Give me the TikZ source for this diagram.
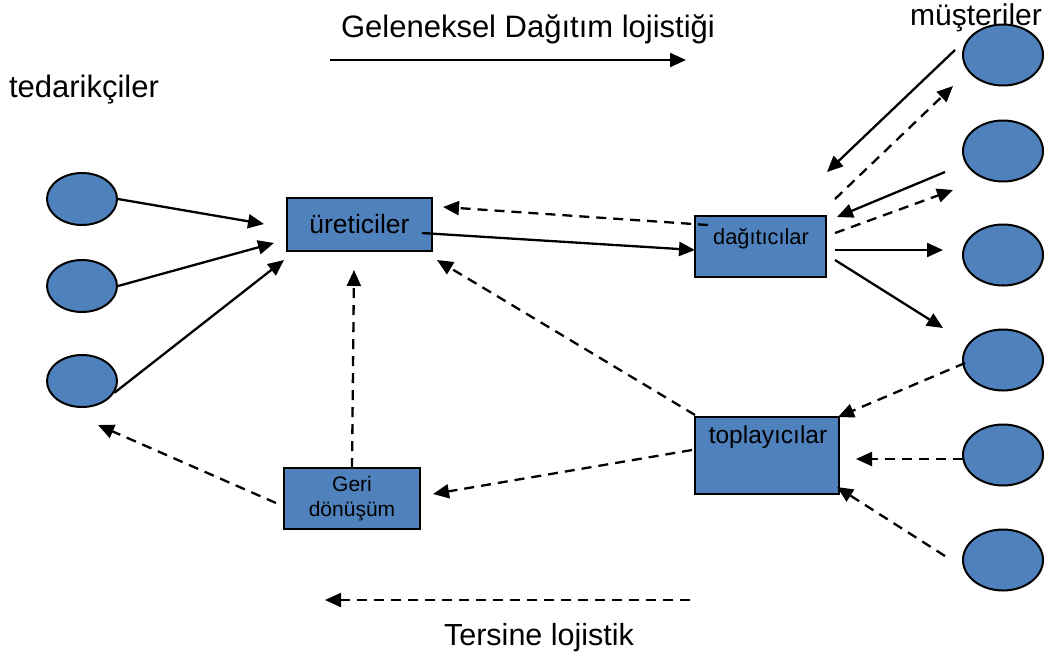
\documentclass[tikz,border=0pt]{standalone}
\usepackage{fontspec}
\setmainfont{Liberation Sans}
\usetikzlibrary{shapes.geometric,arrows.meta}
\definecolor{boxblue}{HTML}{4F81BD}
\tikzset{
  party/.style={ellipse,draw=black,line width=2pt,fill=boxblue,minimum width=80pt,minimum height=61pt,inner sep=0pt},
  leftparty/.style={party,minimum width=70pt,minimum height=52pt},
  actor/.style={rectangle,draw=black,line width=2pt,fill=boxblue,inner sep=0pt},
  flow/.style={line width=2.3pt,-{Triangle[length=16pt,width=14pt]}},
  backflow/.style={flow,dash pattern=on 10pt off 7pt},
  caption/.style={inner sep=0pt,anchor=base},
}
\newcommand{\fs}[1]{\fontsize{#1}{#1}\selectfont}
\begin{document}
\begin{tikzpicture}[x=1pt,y=-1pt]
\useasboundingbox (0,0) rectangle (1059,657);

% headings
\node[caption,font=\fs{31}] (fwdtitle) at (528,37) {Geleneksel Dağıtım lojistiği};
\node[caption,font=\fs{31}] (suptitle) at (84,97) {tedarikçiler};
\node[caption,font=\fs{30}] (custitle) at (976,25) {müşteriler};
\node[caption,font=\fs{30.5}] (revtitle) at (539,645) {Tersine lojistik};

% suppliers
\node[leftparty] (s1) at (82,199) {};
\node[leftparty] (s2) at (82,286) {};
\node[leftparty] (s3) at (82,381) {};

% customers
\node[party] (c1) at (1003,55) {};
\node[party] (c2) at (1003,151) {};
\node[party] (c3) at (1003,255) {};
\node[party] (c4) at (1003,360) {};
\node[party] (c5) at (1003,455) {};
\node[party] (c6) at (1003,560) {};

% actors
\node[actor,minimum width=145pt,minimum height=53pt,font=\fs{26.5}] (prod) at (359.5,224.5) {üreticiler};
\node[actor,minimum width=131pt,minimum height=61pt] (dist) at (760.5,246.5) {};
\node[inner sep=0pt,font=\fs{21.8}] (distlbl) at (761,239) {dağıtıcılar};
\node[actor,minimum width=144pt,minimum height=77pt] (coll) at (767,455.5) {};
\node[inner sep=0pt,font=\fs{24.5}] (colllbl) at (768,437) {toplayıcılar};
\node[actor,minimum width=136pt,minimum height=61pt,font=\fs{21},align=center] (recy) at (352,498.5) {Geri\\[4pt]dönüşüm};

% free connector ends
\coordinate (fwdA) at (330,60);
\coordinate (fwdB) at (686,60);
\coordinate (revA) at (690,600);
\coordinate (revB) at (325,600);
\coordinate (s1t) at (264,224);
\coordinate (s2t) at (274,243);
\coordinate (s3t) at (284,260);
\coordinate (prodOut) at (422,233);
\coordinate (prodIn1) at (443,207);
\coordinate (prodIn2) at (437,260);
\coordinate (prodIn3) at (354,270);
\coordinate (distOut1) at (708,225);
\coordinate (distIn) at (695,250);
\coordinate (c1o) at (955,50);
\coordinate (c1i) at (953,86);
\coordinate (d1i) at (827,172);
\coordinate (d1o) at (835,199);
\coordinate (c2o) at (945,172);
\coordinate (c2i) at (953,190);
\coordinate (d2i) at (837,217);
\coordinate (d2o) at (835,233);
\coordinate (d3o) at (835,250);
\coordinate (c3i) at (943,250);
\coordinate (d4o) at (835,260);
\coordinate (c4i) at (943,328);
\coordinate (c4o) at (965,363);
\coordinate (k1i) at (838,417);
\coordinate (c5o) at (963,459);
\coordinate (k2i) at (856,459);
\coordinate (c6o) at (945,556);
\coordinate (k3i) at (837,487);
\coordinate (k4o) at (695,415);
\coordinate (k5o) at (692,450);
\coordinate (recyIn) at (433,494);
\coordinate (recyOut) at (276,503);
\coordinate (recyTop) at (352,468);
\coordinate (supIn) at (98,425);

% direction arrows
\draw[flow] (fwdA) -- (fwdB);
\draw[backflow] (revA) -- (revB);

% forward flows
\draw[flow] (s1.east) -- (s1t);
\draw[flow] (s2.east) -- (s2t);
\draw[flow] (s3.-20) -- (s3t);
\draw[flow] (prodOut) -- (distIn);
\draw[flow] (c1o) -- (d1i);
\draw[flow] (c2o) -- (d2i);
\draw[flow] (d3o) -- (c3i);
\draw[flow] (d4o) -- (c4i);

% reverse flows
\draw[backflow] (distOut1) -- (prodIn1);
\draw[backflow] (d1o) -- (c1i);
\draw[backflow] (d2o) -- (c2i);
\draw[backflow] (c4o) -- (k1i);
\draw[backflow] (c5o) -- (k2i);
\draw[backflow] (c6o) -- (k3i);
\draw[backflow] (k4o) -- (prodIn2);
\draw[backflow] (k5o) -- (recyIn);
\draw[backflow] (recyTop) -- (prodIn3);
\draw[backflow] (recyOut) -- (supIn);
\end{tikzpicture}
\end{document}
